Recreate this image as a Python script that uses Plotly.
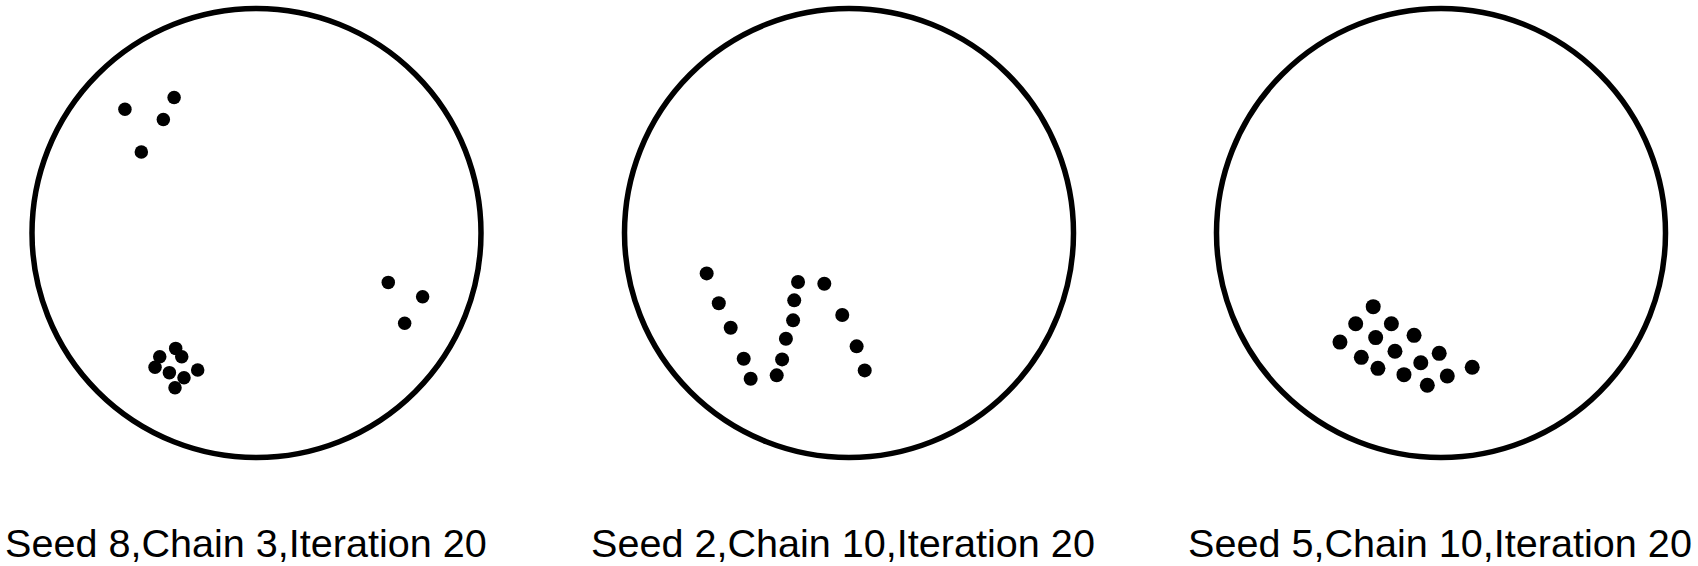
import plotly.graph_objects as go

# ---- data: particle positions in unit-disk coordinates ----
titles = ["Seed 8,Chain 3,Iteration 20",
          "Seed 2,Chain 10,Iteration 20",
          "Seed 5,Chain 10,Iteration 20"]

seed8_x = [-0.586, -0.367, -0.415, -0.513,
           -0.360, -0.333, -0.431, -0.452, -0.388, -0.323, -0.262, -0.363,
           0.587, 0.740, 0.660]
seed8_y = [0.551, 0.604, 0.506, 0.361,
           -0.514, -0.551, -0.551, -0.598, -0.622, -0.645, -0.610, -0.689,
           -0.220, -0.284, -0.402]

seed2_x = [-0.634, -0.580, -0.527, -0.469, -0.438, -0.322, -0.298, -0.281,
           -0.249, -0.244, -0.227, -0.110, -0.030, 0.034, 0.070]
seed2_y = [-0.180, -0.313, -0.422, -0.560, -0.649, -0.634, -0.563, -0.471,
           -0.389, -0.300, -0.218, -0.226, -0.365, -0.505, -0.612]

seed5_x = [-0.302, -0.380, -0.221, -0.450, -0.291, -0.120, -0.355, -0.205,
           -0.008, -0.281, -0.090, -0.165, 0.028, -0.061, 0.139]
seed5_y = [-0.328, -0.404, -0.404, -0.486, -0.466, -0.456, -0.554, -0.527,
           -0.536, -0.603, -0.578, -0.631, -0.637, -0.678, -0.598]

panels_x = [seed8_x, seed2_x, seed5_x]
panels_y = [seed8_y, seed2_y, seed5_y]

# ---- layout constants (pixels) ----
W, H = 1698, 566
centers_px = [256.5, 849.0, 1441.0]
center_y_px = 233.0
radius_px = 224.5
axis_half = 1.02
half_px = radius_px * axis_half
marker_sizes = [13.5, 14, 15]
label_x_px = [245.7, 842.5, 1440.0]
label_y_px = 543.0

fig = go.Figure()
layout = dict(
    width=W, height=H,
    margin=dict(l=0, r=0, t=0, b=0),
    paper_bgcolor="white", plot_bgcolor="white",
    showlegend=False,
    hovermode=False,
)

shapes = []
annotations = []
y_dom = [(H - (center_y_px + half_px)) / H, (H - (center_y_px - half_px)) / H]

for i in range(3):
    sfx = "" if i == 0 else str(i + 1)
    xa = "xaxis" + sfx
    ya = "yaxis" + sfx
    cx = centers_px[i]
    layout[xa] = dict(domain=[(cx - half_px) / W, (cx + half_px) / W],
                      range=[-axis_half, axis_half], visible=False,
                      fixedrange=True, anchor="y" + sfx)
    layout[ya] = dict(domain=y_dom, range=[-axis_half, axis_half],
                      visible=False, fixedrange=True, anchor="x" + sfx)
    fig.add_trace(go.Scatter(
        x=panels_x[i], y=panels_y[i], mode="markers",
        marker=dict(color="black", size=marker_sizes[i], line=dict(width=0)),
        xaxis="x" + sfx, yaxis="y" + sfx, cliponaxis=False,
    ))
    shapes.append(dict(type="circle", xref="x" + sfx, yref="y" + sfx,
                       x0=-1, x1=1, y0=-1, y1=1,
                       line=dict(color="black", width=5.5),
                       fillcolor="rgba(0,0,0,0)", layer="below"))
    annotations.append(dict(text=titles[i], xref="paper", yref="paper",
                            x=label_x_px[i] / W, y=(H - label_y_px) / H,
                            xanchor="center", yanchor="middle",
                            showarrow=False,
                            font=dict(family="Liberation Sans, Arial, Helvetica, sans-serif",
                                      size=39.6, color="black")))

layout["shapes"] = shapes
layout["annotations"] = annotations
fig.update_layout(**layout)
fig.write_html("out.html", config={"displayModeBar": False})
